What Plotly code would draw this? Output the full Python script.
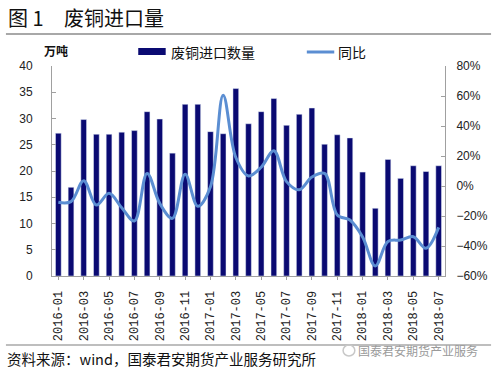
import plotly.graph_objects as go

months = ["2016-01", "2016-02", "2016-03", "2016-04", "2016-05", "2016-06", "2016-07", "2016-08",
          "2016-09", "2016-10", "2016-11", "2016-12", "2017-01", "2017-02", "2017-03", "2017-04",
          "2017-05", "2017-06", "2017-07", "2017-08", "2017-09", "2017-10", "2017-11", "2017-12",
          "2018-01", "2018-02", "2018-03", "2018-04", "2018-05", "2018-06", "2018-07"]
volume = [27.2, 16.9, 29.8, 27.0, 27.0, 27.4, 27.7, 31.3, 29.9, 23.4, 32.7, 32.7, 27.5, 27.1, 35.7, 29.0,
          31.3, 33.8, 28.7, 30.8, 32.0, 25.1, 26.9, 26.3, 19.8, 12.9, 22.2, 18.6, 21.0, 19.9, 21.0]
yoy = [-10.9, -10.4, 3.5, -12.7, -4.9, -14.5, -23.3, 8.4, -11.6, -21.6, 7.8, -13.5, -0.5, 60.5, 19.0, 6.7,
       12.5, 23.5, 2.9, -2.5, 6.0, 8.4, -19.3, -22.7, -34.0, -53.3, -37.0, -36.0, -33.8, -41.5, -27.6]
tick_months = months[::2]
left_ticks = [0, 5, 10, 15, 20, 25, 30, 35, 40]
right_ticks = [-60, -40, -20, 0, 20, 40, 60, 80]
right_tick_labels = ["\u221260%", "\u221240%", "\u221220%", "0%", "20%", "40%", "60%", "80%"]

W, H = 500, 373
L, R, T, B = 52, 453, 66, 276
BAR_C = "#0a0a72"
LINE_C = "#5b8ed2"
CJK = "Noto Sans CJK SC"


def px(x):
    return (x - L) / (R - L)


def py(y):
    return (B - y) / (B - T)


fig = go.Figure()
fig.add_trace(go.Bar(x=months, y=volume, name="废铜进口数量", marker_color=BAR_C,
                     width=0.45, yaxis="y"))
fig.add_trace(go.Scatter(x=months, y=yoy, name="同比", mode="lines",
                         line=dict(color=LINE_C, width=3, shape="spline", smoothing=1.0),
                         yaxis="y2"))

shapes = [
    dict(type="line", xref="paper", yref="paper", x0=px(5), x1=px(500), y0=py(34), y1=py(34),
         line=dict(color="#a8a8a8", width=2)),
    dict(type="line", xref="paper", yref="paper", x0=px(5), x1=px(500), y0=py(345), y1=py(345),
         line=dict(color="#a8a8a8", width=1.5)),
    dict(type="rect", xref="paper", yref="paper", x0=px(140), x1=px(168), y0=py(55), y1=py(48),
         fillcolor=BAR_C, line=dict(width=0)),
    dict(type="line", xref="paper", yref="paper", x0=px(312), x1=px(340), y0=py(52), y1=py(52),
         line=dict(color=LINE_C, width=3)),
    dict(type="circle", xref="paper", yref="paper", x0=px(349), x1=px(361), y0=py(356), y1=py(345),
         line=dict(color="#c8c8c8", width=1.5)),
]

annotations = [
    dict(text="图 1", x=px(5), y=py(18), xref="paper", yref="paper", xanchor="left", yanchor="middle",
         showarrow=False, font=dict(family=CJK, size=20, color="#111")),
    dict(text="废铜进口量", x=px(62), y=py(18), xref="paper", yref="paper", xanchor="left",
         yanchor="middle", showarrow=False, font=dict(family=CJK, size=20, color="#111")),
    dict(text="<b>万吨</b>", x=px(42), y=py(50), xref="paper", yref="paper", xanchor="left",
         yanchor="middle", showarrow=False, font=dict(family=CJK, size=12, color="#111")),
    dict(text="废铜进口数量", x=px(171), y=py(52), xref="paper", yref="paper", xanchor="left",
         yanchor="middle", showarrow=False, font=dict(family=CJK, size=14, color="#111")),
    dict(text="同比", x=px(342), y=py(52), xref="paper", yref="paper", xanchor="left",
         yanchor="middle", showarrow=False, font=dict(family=CJK, size=14, color="#111")),
    dict(text="资料来源：wind，国泰君安期货产业服务研究所", x=px(4), y=py(358), xref="paper", yref="paper",
         xanchor="left", yanchor="middle", showarrow=False,
         font=dict(family=CJK, size=14.5, color="#111")),
    dict(text="国泰君安期货产业服务", x=px(489), y=py(350), xref="paper", yref="paper",
         xanchor="right", yanchor="middle", showarrow=False,
         font=dict(family=CJK, size=12, color="#9a9a9a")),
]

fig.update_layout(
    width=W, height=H,
    margin=dict(l=L, r=W - R, t=T, b=H - B, pad=0),
    paper_bgcolor="white", plot_bgcolor="white",
    showlegend=False,
    shapes=shapes,
    annotations=annotations,
    xaxis=dict(type="category", categoryorder="array", categoryarray=months,
               tickmode="array", tickvals=tick_months, ticktext=tick_months,
               tickangle=-90, tickfont=dict(family="Liberation Mono", size=12, color="#222"),
               showline=True, linecolor="#a0a0a0", linewidth=1, ticks="outside", ticklen=3,
               tickcolor="#a0a0a0", showgrid=False, range=[-0.5, 30.5], ticklabelstandoff=6),
    yaxis=dict(range=[0, 40], tickmode="array", tickvals=left_ticks, showgrid=False, zeroline=False,
               showline=True, linecolor="#a0a0a0", linewidth=1, ticks="inside", ticklen=4,
               tickcolor="#a0a0a0", tickfont=dict(family="Liberation Sans", size=12, color="#222"),
               ticklabelstandoff=16),
    yaxis2=dict(range=[-60, 80], tickmode="array", tickvals=right_ticks, ticktext=right_tick_labels,
                overlaying="y", side="right", showgrid=False, zeroline=False,
                showline=True, linecolor="#a0a0a0", linewidth=1, ticks="inside", ticklen=4,
                tickcolor="#a0a0a0", tickfont=dict(family="Liberation Sans", size=12, color="#222"),
                ticklabelstandoff=8),
)

fig.write_html("out.html", post_script="document.body.style.margin='0';",
               config={"displayModeBar": False})
